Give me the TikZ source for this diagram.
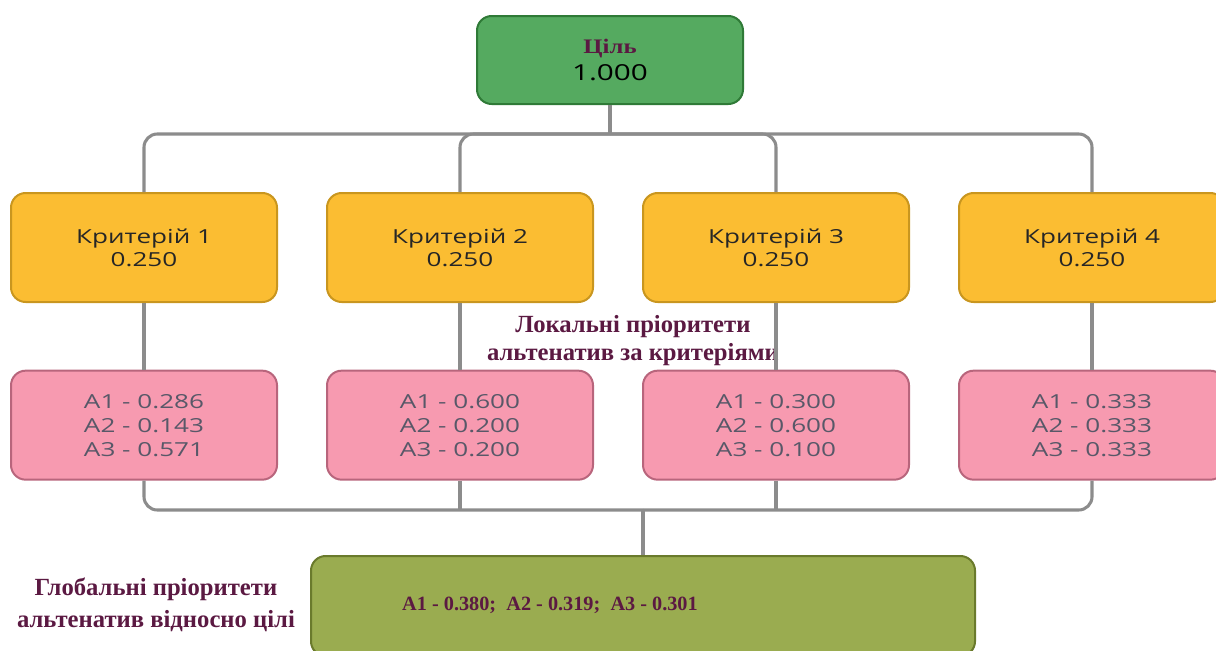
\documentclass[tikz,border=0pt]{standalone}
\usepackage{fontspec}
\setmainfont{Liberation Serif}
\newfontfamily\boxfont[FakeStretch=1.35]{Open Sans}
\newfontfamily\goalfont[FakeStretch=1.2]{Liberation Serif}
\usetikzlibrary{positioning}

\definecolor{goalfill}{HTML}{55AA60}
\definecolor{goalline}{HTML}{2F7A37}
\definecolor{critfill}{HTML}{FBBD32}
\definecolor{critline}{HTML}{C9961F}
\definecolor{altfill}{HTML}{F79AB0}
\definecolor{altline}{HTML}{B8657C}
\definecolor{globfill}{HTML}{9AAC50}
\definecolor{globline}{HTML}{6A7A2C}
\definecolor{linkgray}{HTML}{8C8C8C}
\definecolor{notepurple}{HTML}{5B1942}
\definecolor{alttext}{HTML}{585868}

\begin{document}
\begin{tikzpicture}[x=0.75pt, y=-0.75pt, node distance=50pt and 36pt,
    box/.style={draw, rounded corners=11pt, line width=1.5pt, minimum width=199.5pt,
      minimum height=81.75pt, align=center, font=\boxfont\fontsize{14.5}{17.5}\selectfont},
    crit/.style={box, fill=critfill, draw=critline, text=black!85},
    alt/.style={box, fill=altfill, draw=altline, text=alttext,
      font=\boxfont\fontsize{14.5}{18}\selectfont},
    link/.style={draw=linkgray, line width=2.3pt, rounded corners=10pt},
    note/.style={align=center, text=notepurple, font=\bfseries\fontsize{18.5}{21}\selectfont}]
    \useasboundingbox (0,0) rectangle (1216,650);
    \clip (0,0) rectangle (1216,650);

    \node[box, fill=goalfill, draw=goalline, minimum height=66pt] (goal) at (610,60)
      {{\goalfont\bfseries\color{notepurple}\fontsize{15.5}{17}\selectfont Ціль}\\[3pt]
       {\fontsize{16.5}{19}\selectfont 1.000}};

    \node[crit] (c1) at (144,247.5) {Критерій 1\\0.250};
    \node[crit, right=of c1] (c2) {Критерій 2\\0.250};
    \node[crit, right=of c2] (c3) {Критерій 3\\0.250};
    \node[crit, right=of c3] (c4) {Критерій 4\\0.250};

    \node[alt, below=of c1] (a1) {A1 - 0.286\\A2 - 0.143\\A3 - 0.571};
    \node[alt, below=of c2] (a2) {A1 - 0.600\\A2 - 0.200\\A3 - 0.200};
    \node[alt, below=of c3] (a3) {A1 - 0.300\\A2 - 0.600\\A3 - 0.100};
    \node[alt, below=of c4] (a4) {A1 - 0.333\\A2 - 0.333\\A3 - 0.333};

    \node[box, fill=globfill, draw=globline, minimum width=498pt, minimum height=75pt]
      (glob) at (643,606) {};
    \node[text=notepurple, font=\bfseries\fontsize{15.2}{17}\selectfont] (globtxt) at (550,605)
      {A1 - 0.380;\ \ A2 - 0.319;\ \ A3 - 0.301};

    \node[note] (localnote) at (633,341) {Локальні пріоритети\\альтенатив за критеріями};
    \node[note, font=\bfseries\fontsize{18.5}{24}\selectfont] (globnote) at (156,605)
      {Глобальні пріоритети\\альтенатив відносно цілі};

    \coordinate (hub) at (610,134);
    \coordinate (merge) at (643,510);
    \draw[link] (goal) -- (hub);
    \foreach \c in {c1, c2, c3, c4}
      \draw[link] (hub) -| (\c);
    \foreach \c/\a in {c1/a1, c2/a2, c3/a3, c4/a4}
      \draw[link] (\c) -- (\a);
    \foreach \a in {a1, a4}
      \draw[link] (\a) |- (merge);
    \foreach \a in {a2, a3}
      \draw[link] (\a) -- (\a |- merge);
    \draw[link] (merge) -- (glob);
\end{tikzpicture}
\end{document}
